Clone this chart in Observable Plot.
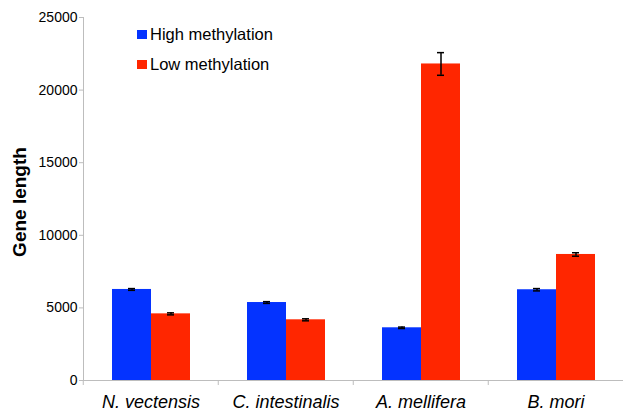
<!DOCTYPE html>
<html><head><meta charset="utf-8">
<script src="https://cdn.jsdelivr.net/npm/d3@7"></script>
<script src="https://cdn.jsdelivr.net/npm/@observablehq/plot@0.6"></script>
<style>
body{margin:0;background:#fff;}
#chart{position:relative;width:624px;height:412px;font-family:"Liberation Sans",Arial,sans-serif;}
#chart svg{display:block;}
#legend{position:absolute;left:137px;top:24px;font-size:16.5px;color:#000;}
.item{display:flex;align-items:center;height:20px;margin-bottom:10px;}
.sw{width:10px;height:9px;margin-right:3px;}
</style></head>
<body><div id="chart"><div id="legend"></div></div>
<script>
const species = ["N. vectensis", "C. intestinalis", "A. mellifera", "B. mori"];
const series = ["High methylation", "Low methylation"];
const highValues = [6270, 5370, 3630, 6250];
const lowValues = [4590, 4180, 21800, 8680];
const highErrors = [60, 60, 50, 80];
const lowErrors = [70, 70, 780, 120];
const yTicks = [0, 5000, 10000, 15000, 20000, 25000];
const colors = ["#0433FF", "#FF2600"];

const table = [];
species.forEach((s, i) => {
  table.push({species: s, series: series[0], value: highValues[i], error: highErrors[i]});
  table.push({species: s, series: series[1], value: lowValues[i], error: lowErrors[i]});
});

const axisGray = "#bdbdbd";
const plot = Plot.plot({
  width: 624, height: 412,
  marginLeft: 82, marginRight: 0, marginTop: 17, marginBottom: 32,
  style: {fontFamily: '"Liberation Sans", Arial, sans-serif', fontSize: "14px", background: "white", color: "#000"},
  fx: {domain: species, padding: 0, label: null, axis: null},
  x: {domain: series, paddingInner: 0, paddingOuter: 0.715, axis: null},
  y: {domain: [0, 25000], axis: null},
  color: {domain: series, range: colors},
  marks: [
    Plot.frame({anchor: "left", facetAnchor: "left", stroke: axisGray}),
    Plot.barY(table, {fx: "species", x: "series", y: "value", fill: "series"}),
    Plot.ruleX(table, {fx: "species", x: "series", y1: d => d.value - d.error, y2: d => d.value + d.error, stroke: "#000", strokeWidth: 1.5}),
    Plot.tickY(table, {fx: "species", x: "series", y: d => d.value - d.error, insetLeft: 16, insetRight: 16, stroke: "#000", strokeWidth: 1.5}),
    Plot.tickY(table, {fx: "species", x: "series", y: d => d.value + d.error, insetLeft: 16, insetRight: 16, stroke: "#000", strokeWidth: 1.5}),
    Plot.ruleY([0], {stroke: axisGray}),
    Plot.axisY({ticks: yTicks, tickFormat: d3.format("d"), tickSize: 4, tickPadding: 2, stroke: axisGray, fill: "#000", fontSize: 14, label: null}),
    Plot.axisFx({anchor: "bottom", tickSize: 5, tickFormat: () => "", dx: -67.75, stroke: axisGray, label: null}),
    Plot.axisFx({anchor: "bottom", tickSize: 0, tickPadding: 14.5, fontSize: 18, fontStyle: "italic", fill: "#000", label: null}),
    Plot.text(["Gene length"], {frameAnchor: "left", facetAnchor: "left", textAnchor: "middle", rotate: -90, dx: -64, dy: 3, fontWeight: "bold", fontSize: 19, fill: "#000"})
  ]
});
document.getElementById("chart").prepend(plot);

const legend = document.getElementById("legend");
series.forEach((s, i) => {
  const item = document.createElement("div");
  item.className = "item";
  const sw = document.createElement("span");
  sw.className = "sw";
  sw.style.background = colors[i];
  const t = document.createElement("span");
  t.textContent = s;
  item.append(sw, t);
  legend.append(item);
});
</script>
</body></html>
